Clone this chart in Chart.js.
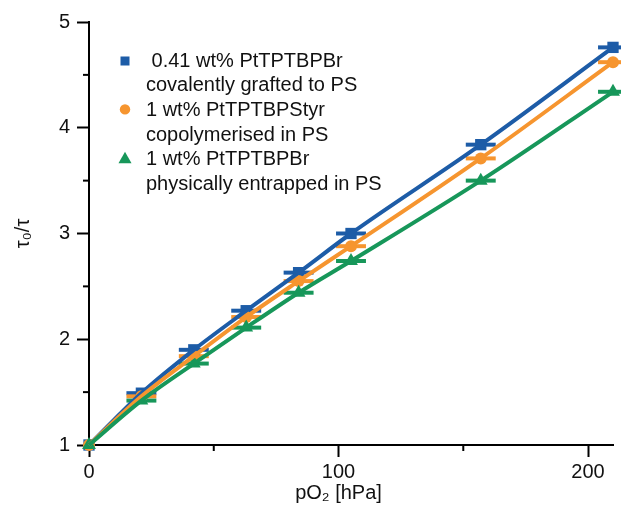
<!DOCTYPE html>
<html>
<head>
<meta charset="utf-8">
<script src="https://cdn.jsdelivr.net/npm/chart.js@4/dist/chart.umd.min.js"></script>
<style>
  html, body { margin: 0; padding: 0; background: #fff; }
  #wrap { width: 621px; height: 505px; position: relative; }
</style>
</head>
<body>
<div id="wrap"><canvas id="chart"></canvas></div>
<script>
// Данные
const pO2 = [0, 21, 42, 63, 84, 105, 157, 210];
const pO2Err = [0, 6, 6, 6, 6, 6, 6, 6];
const grafted = [1, 1.49, 1.9, 2.27, 2.63, 3.0, 3.84, 4.76];
const copolymerised = [1, 1.46, 1.84, 2.21, 2.55, 2.88, 3.71, 4.62];
const entrapped = [1, 1.42, 1.77, 2.11, 2.44, 2.74, 3.5, 4.34];

const legendLines = [
  [" 0.41 wt% PtTPTBPBr", "covalently grafted to PS"],
  ["1 wt% PtTPTBPStyr", "copolymerised in PS"],
  ["1 wt% PtTPTBPBr", "physically entrapped in PS"],
];

const xTicks = [0, 100, 200];
const xMinorTicks = [50, 150];
const yTicks = [1, 2, 3, 4, 5];
const yMinorTicks = [1.5, 2.5, 3.5, 4.5];

const BLUE = "#1d5ca7";
const ORANGE = "#f6952f";
const GREEN = "#17975a";
const FONT = "'Liberation Sans', Arial, Helvetica, sans-serif";

const colors = [BLUE, ORANGE, GREEN];
const styles = ["rect", "circle", "triangle"];
const radii = [8, 6, 8];
const series = [grafted, copolymerised, entrapped];

const toPoints = (ys) => pO2.map((x, i) => ({ x, y: ys[i] }));

// Линии (сверху) и маркеры (снизу)
const datasets = [];
series.forEach((ys, k) => {
  datasets.push({
    data: toPoints(ys),
    showLine: true,
    borderColor: colors[k],
    borderWidth: 4,
    pointRadius: 0,
    cubicInterpolationMode: "monotone",
    order: 2 - k,
    clip: false,
  });
});
series.forEach((ys, k) => {
  datasets.push({
    data: toPoints(ys),
    showLine: false,
    pointStyle: styles[k],
    pointRadius: radii[k],
    backgroundColor: colors[k],
    borderColor: colors[k],
    borderWidth: 0,
    order: 5 - k,
    clip: false,
  });
});

// Горизонтальные погрешности
const errorBars = {
  id: "errorBars",
  beforeDatasetsDraw(chart) {
    const { ctx, scales } = chart;
    ctx.save();
    ctx.lineWidth = 4;
    series.forEach((ys, k) => {
      ctx.strokeStyle = colors[k];
      pO2.forEach((x, i) => {
        if (!pO2Err[i]) return;
        const y = scales.y.getPixelForValue(ys[i]);
        ctx.beginPath();
        ctx.moveTo(scales.x.getPixelForValue(x - pO2Err[i]), y);
        ctx.lineTo(scales.x.getPixelForValue(x + pO2Err[i]), y);
        ctx.stroke();
      });
    });
    ctx.restore();
  },
};

// Малые деления, подпись оси X и легенда
const extras = {
  id: "extras",
  afterDraw(chart) {
    const { ctx, scales, chartArea } = chart;
    ctx.save();
    ctx.strokeStyle = "#000";
    ctx.lineWidth = 2;
    xMinorTicks.forEach((v) => {
      const px = scales.x.getPixelForValue(v);
      ctx.beginPath();
      ctx.moveTo(px, chartArea.bottom);
      ctx.lineTo(px, chartArea.bottom + 6);
      ctx.stroke();
    });
    yMinorTicks.forEach((v) => {
      const py = scales.y.getPixelForValue(v);
      ctx.beginPath();
      ctx.moveTo(chartArea.left, py);
      ctx.lineTo(chartArea.left - 6, py);
      ctx.stroke();
    });

    // подпись оси X
    ctx.fillStyle = "#111";
    ctx.font = "20px " + FONT;
    ctx.textAlign = "center";
    ctx.textBaseline = "middle";
    ctx.fillText("pO\u2082 [hPa]", scales.x.getPixelForValue(100), chartArea.bottom + 48);

    // легенда
    const mx = chartArea.left + 36;
    const tx = chartArea.left + 57;
    const lh = 24.7;
    ctx.font = "20px " + FONT;
    ctx.textAlign = "left";
    legendLines.forEach((lines, k) => {
      const y0 = chartArea.top + 39 + k * 2 * lh;
      ctx.fillStyle = colors[k];
      if (k === 0) {
        ctx.fillRect(mx - 4.5, y0 - 4.5, 9, 9);
      } else if (k === 1) {
        ctx.beginPath();
        ctx.arc(mx, y0 - 1, 5.2, 0, Math.PI * 2);
        ctx.fill();
      } else {
        ctx.beginPath();
        ctx.moveTo(mx, y0 - 8);
        ctx.lineTo(mx + 6.5, y0 + 3.5);
        ctx.lineTo(mx - 6.5, y0 + 3.5);
        ctx.closePath();
        ctx.fill();
      }
      ctx.fillStyle = "#111";
      lines.forEach((t, j) => ctx.fillText(t, tx, y0 + j * lh));
    });
    ctx.restore();
  },
};

new Chart(document.getElementById("chart"), {
  type: "scatter",
  data: { datasets },
  options: {
    responsive: true,
    maintainAspectRatio: false,
    animation: false,
    events: [],
    layout: { autoPadding: false, padding: { top: 22, right: 8, bottom: 0, left: 0 } },
    plugins: { legend: { display: false }, tooltip: { enabled: false } },
    scales: {
      x: {
        type: "linear",
        min: 0,
        max: 210,
        afterBuildTicks: (s) => { s.ticks = xTicks.map((v) => ({ value: v })); },
        afterFit: (s) => { s.height = 60; },
        border: { display: true, color: "#000", width: 2 },
        grid: { drawOnChartArea: false, drawTicks: true, tickLength: 12, tickWidth: 2, tickColor: "#000" },
        ticks: { color: "#111", font: { family: FONT, size: 20 }, padding: 3, maxRotation: 0 },
      },
      y: {
        type: "linear",
        min: 1,
        max: 5,
        afterBuildTicks: (s) => { s.ticks = yTicks.map((v) => ({ value: v })); },
        afterFit: (s) => { s.width = 89; },
        border: { display: true, color: "#000", width: 2 },
        grid: { drawOnChartArea: false, drawTicks: true, tickLength: 12, tickWidth: 2, tickColor: "#000" },
        ticks: { color: "#111", font: { family: FONT, size: 20 }, padding: 7 },
        title: {
          display: true,
          text: "\u03c4\u2080/\u03c4",
          color: "#111",
          font: { family: FONT, size: 20 },
          padding: { top: 11, bottom: 0 },
        },
      },
    },
  },
  plugins: [errorBars, extras],
});
</script>
</body>
</html>
